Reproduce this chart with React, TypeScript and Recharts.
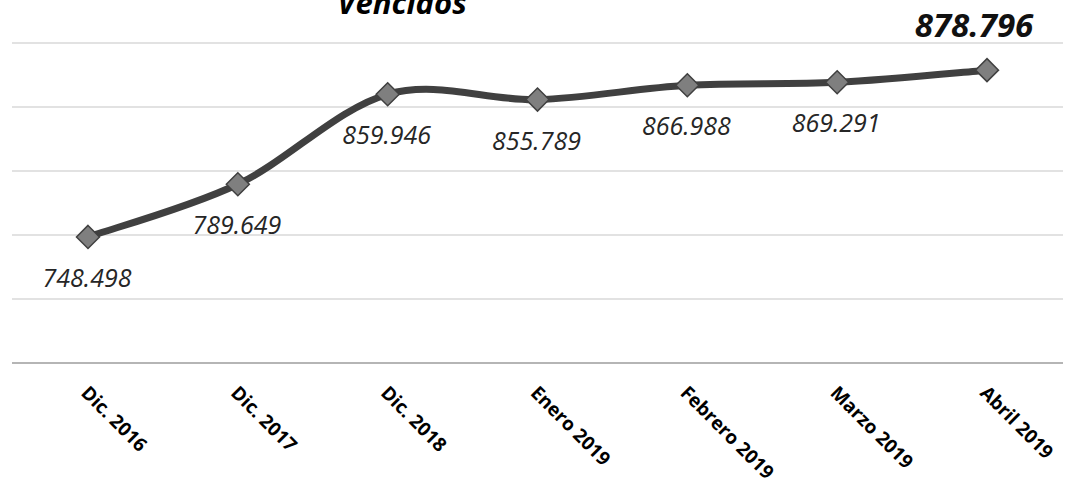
import React from 'react';
import { LineChart, Line, XAxis, YAxis, CartesianGrid, LabelList } from 'recharts';

const title = 'Vencidos';
const categories = ['Dic. 2016', 'Dic. 2017', 'Dic. 2018', 'Enero 2019', 'Febrero 2019', 'Marzo 2019', 'Abril 2019'];
const values = [748498, 789649, 859946, 855789, 866988, 869291, 878796];
const yTicks = [650000, 700000, 750000, 800000, 850000, 900000];

const data = categories.map((c, i) => ({ name: c, value: values[i] }));

const fmt = (v: number) => String(Math.round(v)).replace(/\B(?=(\d{3})+(?!\d))/g, '.');

const FONT = '"Open Sans", "DejaVu Sans", sans-serif';

// Smooth curve similar to spreadsheet "smoothed line" (Catmull-Rom style Bezier)
function smoothCurve(context: any) {
  let pts: number[][] = [];
  return {
    areaStart() {},
    areaEnd() {},
    lineStart() {
      pts = [];
    },
    point(x: number, y: number) {
      pts.push([+x, +y]);
    },
    lineEnd() {
      if (!pts.length) return;
      context.moveTo(pts[0][0], pts[0][1]);
      const t = 1 / 6;
      for (let i = 0; i < pts.length - 1; i++) {
        const p0 = pts[i - 1] || pts[i];
        const p1 = pts[i];
        const p2 = pts[i + 1];
        const p3 = pts[i + 2] || p2;
        context.bezierCurveTo(
          p1[0] + (p2[0] - p0[0]) * t,
          p1[1] + (p2[1] - p0[1]) * t,
          p2[0] - (p3[0] - p1[0]) * t,
          p2[1] - (p3[1] - p1[1]) * t,
          p2[0],
          p2[1]
        );
      }
    },
  };
}

const Diamond = (props: any) => {
  const { cx, cy } = props;
  if (cx == null || cy == null) return null;
  const r = 11.5;
  return (
    <polygon
      points={`${cx},${cy - r} ${cx + r},${cy} ${cx},${cy + r} ${cx - r},${cy}`}
      fill="#7f7f7f"
      stroke="#404040"
      strokeWidth={1.5}
    />
  );
};

const AxisTick = (props: any) => {
  const { x, y, payload } = props;
  return (
    <g transform={`translate(${x - 8},${y + 23}) rotate(45)`}>
      <text x={0} y={0} textAnchor="start" fontFamily={FONT} fontWeight={700} fontSize={19} fill="#000">
        {payload.value}
      </text>
    </g>
  );
};

const ValueLabel = (props: any) => {
  const { x, y, value, index } = props;
  const last = index === values.length - 1;
  if (last) {
    return (
      <text x={x - 13} y={y - 33} textAnchor="middle" fontFamily={FONT} fontStyle="italic" fontWeight={700} fontSize={33} fill="#111">
        {fmt(value)}
      </text>
    );
  }
  return (
    <text x={x - 1} y={y + 50} textAnchor="middle" fontFamily={FONT} fontStyle="italic" fontSize={25} fill="#262626">
      {fmt(value)}
    </text>
  );
};

export default function App() {
  return (
    <div style={{ position: 'absolute', left: 0, top: 0, width: 1074, height: 482, background: '#fff' }}>
      <LineChart width={1074} height={482} data={data} margin={{ top: 43, right: 11, bottom: 89, left: 12 }}>
        <CartesianGrid horizontal vertical={false} stroke="#d9d9d9" strokeWidth={1.3} />
        <XAxis
          dataKey="name"
          height={30}
          padding={{ left: 76, right: 76 }}
          axisLine={{ stroke: '#a6a6a6', strokeWidth: 1.5 }}
          tickLine={false}
          tick={<AxisTick />}
          interval={0}
        />
        <YAxis hide domain={[650000, 900000]} ticks={yTicks} />
        <Line
          dataKey="value"
          type={smoothCurve as any}
          stroke="#404040"
          strokeWidth={7}
          dot={<Diamond />}
          activeDot={false}
          isAnimationActive={false}
        >
          <LabelList dataKey="value" content={<ValueLabel />} />
        </Line>
      </LineChart>
      <svg width={1074} height={482} style={{ position: 'absolute', left: 0, top: 0, pointerEvents: 'none' }}>
        <text x={402} y={14} textAnchor="middle" fontFamily={FONT} fontStyle="italic" fontWeight={700} fontSize={31} fill="#000">
          {title}
        </text>
      </svg>
    </div>
  );
}
